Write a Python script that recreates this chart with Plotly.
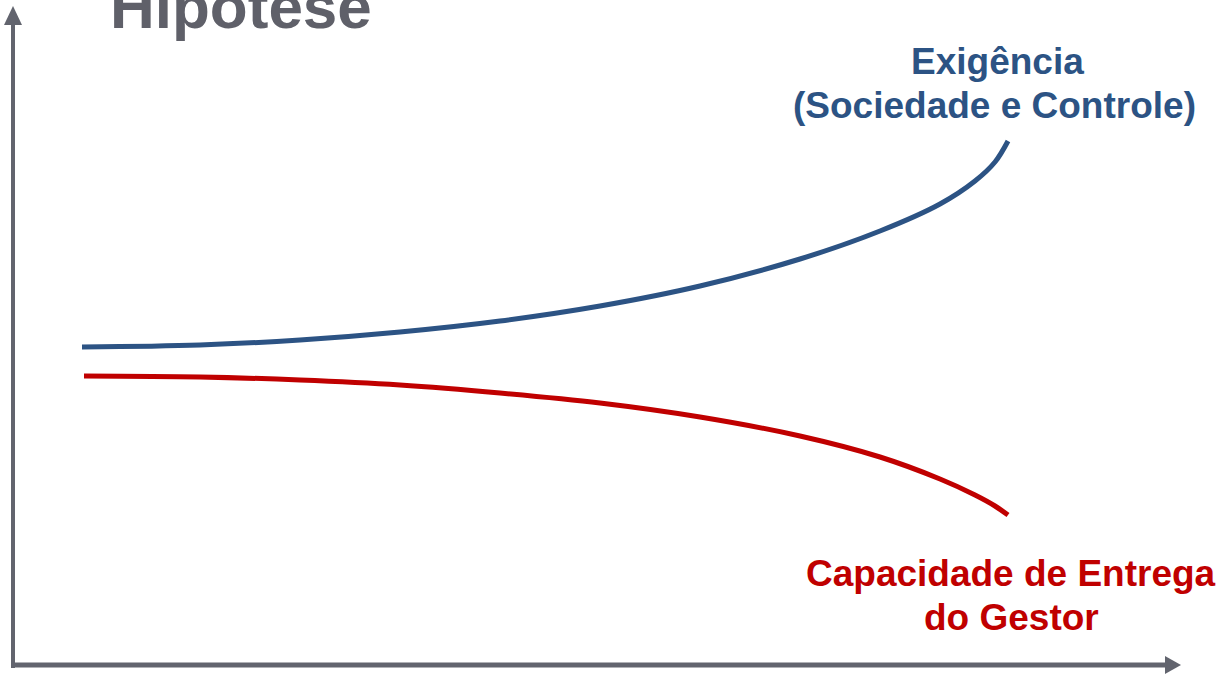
import plotly.graph_objects as go

# Curve samples (chart units: x to the right, y downward as on the page)
exig_x = [82, 200, 300, 400, 500, 600, 700, 800, 880, 940, 975, 995, 1008]
exig_y = [347, 345, 340, 332, 321, 306, 286, 259, 231, 204, 181, 162, 141]

cap_x = [84, 200, 300, 400, 500, 600, 700, 800, 880, 940, 975, 995, 1008]
cap_y = [376, 377, 380, 385, 393, 403, 417, 436, 457, 479, 495, 506, 515]

title_text = "Hipotese"
exig_lines = ["Exigência", "(Sociedade e Controle)"]
cap_lines = ["Capacidade de Entrega", "do Gestor"]

BLUE = "#2c5384"
RED = "#c00000"
GRAY = "#62646e"
FONT = "Liberation Sans, Arial, sans-serif"

fig = go.Figure()
fig.add_trace(go.Scatter(x=exig_x, y=exig_y, mode="lines",
                         line=dict(color=BLUE, width=5, shape="spline", smoothing=1.0),
                         hoverinfo="skip", showlegend=False))
fig.add_trace(go.Scatter(x=cap_x, y=cap_y, mode="lines",
                         line=dict(color=RED, width=5, shape="spline", smoothing=1.0),
                         hoverinfo="skip", showlegend=False))

shapes = [
    # vertical axis
    dict(type="line", x0=13, x1=13, y0=668, y1=24, line=dict(color=GRAY, width=4)),
    dict(type="path", path="M 4 25 L 22 25 L 13 6 Z", fillcolor=GRAY, line=dict(width=0)),
    # horizontal axis
    dict(type="line", x0=11, x1=1166, y0=665, y1=665, line=dict(color=GRAY, width=5)),
    dict(type="path", path="M 1165 656 L 1165 674 L 1181 665 Z", fillcolor=GRAY, line=dict(width=0)),
]

annotations = [
    dict(x=108, y=29, text=f"<b>{title_text}</b>", showarrow=False, xanchor="left",
         yanchor="bottom", yshift=-14, font=dict(family=FONT, size=62, color="#5f6069")),
    dict(x=997, y=61, text=f"<b>{exig_lines[0]}</b>", showarrow=False, xanchor="center",
         yanchor="middle", font=dict(family=FONT, size=37, color=BLUE)),
    dict(x=994, y=105, text=f"<b>{exig_lines[1]}</b>", showarrow=False, xanchor="center",
         yanchor="middle", font=dict(family=FONT, size=37, color=BLUE)),
    dict(x=1011, y=573, text=f"<b>{cap_lines[0]}</b>", showarrow=False, xanchor="center",
         yanchor="middle", font=dict(family=FONT, size=37, color=RED)),
    dict(x=1011, y=617, text=f"<b>{cap_lines[1]}</b>", showarrow=False, xanchor="center",
         yanchor="middle", font=dict(family=FONT, size=37, color=RED)),
]

fig.update_layout(
    width=1224, height=677,
    margin=dict(l=0, r=0, t=0, b=0),
    paper_bgcolor="white", plot_bgcolor="white",
    xaxis=dict(range=[0, 1224], visible=False, fixedrange=True),
    yaxis=dict(range=[677, 0], visible=False, fixedrange=True),
    shapes=shapes, annotations=annotations,
)
fig.write_html("out.html", config={"displayModeBar": False})
